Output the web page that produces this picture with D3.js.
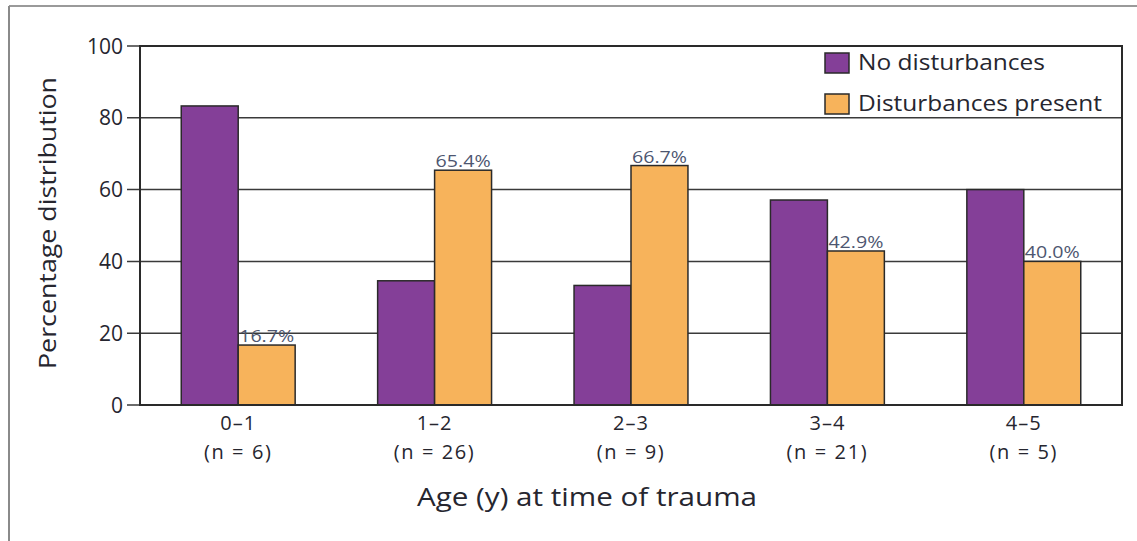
<!DOCTYPE html>
<html>
<head>
<meta charset="utf-8">
<script src="https://cdn.jsdelivr.net/npm/d3@7"></script>
<style>
  body { margin: 0; background: #fff; }
  svg text { font-family: "Open Sans", sans-serif; fill: #26262f; font-weight: 500; }
</style>
</head>
<body>
<div id="chart"></div>
<script>
var ages = ["0\u20131", "1\u20132", "2\u20133", "3\u20134", "4\u20135"];
var counts = ["(n = 6)", "(n = 26)", "(n = 9)", "(n = 21)", "(n = 5)"];
var noDisturb = [83.3, 34.6, 33.3, 57.1, 60.0];
var disturb = [16.7, 65.4, 66.7, 42.9, 40.0];
var seriesNames = ["No disturbances", "Disturbances present"];
var legendWidths = [187, 244];
var yTicks = [0, 20, 40, 60, 80, 100];

var W = 1137, H = 541;
var margin = { top: 46, right: 15, bottom: 136, left: 140 },
    width = W - margin.left - margin.right,
    height = H - margin.top - margin.bottom;

var colors = ["#843f98", "#f7b35b"];

var svg = d3.select("#chart").append("svg")
    .attr("width", W)
    .attr("height", H);

// outer frame (only top and left edges show)
svg.append("line").attr("x1", 9).attr("y1", 6).attr("x2", W).attr("y2", 6)
   .attr("stroke", "#9a9a9a").attr("stroke-width", 2);
svg.append("line").attr("x1", 9).attr("y1", 6).attr("x2", 9).attr("y2", H)
   .attr("stroke", "#8a8a8a").attr("stroke-width", 2);

var g = svg.append("g")
    .attr("transform", "translate(" + margin.left + "," + margin.top + ")");

var x0 = d3.scaleBand().domain(ages).range([0, width]).paddingInner(0.42).paddingOuter(0.21);
var x1 = d3.scaleBand().domain([0, 1]).range([0, x0.bandwidth()]);
var y = d3.scaleLinear().domain([0, 100]).range([height, 0]);

// gridlines
g.selectAll(".grid").data(yTicks.slice(1, 5)).enter().append("line")
  .attr("x1", -13).attr("x2", width)
  .attr("y1", function(d) { return y(d); })
  .attr("y2", function(d) { return y(d); })
  .attr("stroke", "#3a3a3a").attr("stroke-width", 1.5);

// y tick marks at 0 and 100
g.selectAll(".tk").data([0, 100]).enter().append("line")
  .attr("x1", -13).attr("x2", 0)
  .attr("y1", function(d) { return y(d); })
  .attr("y2", function(d) { return y(d); })
  .attr("stroke", "#3a3a3a").attr("stroke-width", 1.5);

g.selectAll(".ylab").data(yTicks).enter().append("text")
  .attr("x", -17)
  .attr("y", function(d) { return y(d); })
  .attr("dy", "0.36em")
  .attr("text-anchor", "end")
  .style("font-size", "21px")
  .text(function(d) { return d; });

// bars
var groups = g.selectAll(".grp").data(ages).enter().append("g")
  .attr("transform", function(d) { return "translate(" + x0(d) + ",0)"; });

groups.each(function(d, i) {
  var vals = [noDisturb[i], disturb[i]];
  d3.select(this).selectAll("rect").data(vals).enter().append("rect")
    .attr("x", function(v, j) { return x1(j); })
    .attr("y", function(v) { return y(v); })
    .attr("width", x1.bandwidth())
    .attr("height", function(v) { return height - y(v); })
    .attr("fill", function(v, j) { return colors[j]; })
    .attr("stroke", "#2a2a2a").attr("stroke-width", 1.5);
  d3.select(this).append("text")
    .attr("x", x1(1) + 1)
    .attr("y", y(disturb[i]) - 3)
    .attr("textLength", 55)
    .attr("lengthAdjust", "spacingAndGlyphs")
    .style("font-size", "16px")
    .style("font-weight", "400")
    .style("fill", "#4d5670")
    .text(disturb[i].toFixed(1) + "%");
});

// plot frame
g.append("rect").attr("x", 0).attr("y", 0).attr("width", width).attr("height", height)
  .attr("fill", "none").attr("stroke", "#2a2a2a").attr("stroke-width", 2);

// category labels
g.selectAll(".xlab").data(ages).enter().append("text")
  .attr("x", function(d) { return x0(d) + x0.bandwidth() / 2; })
  .attr("y", height + 25)
  .attr("text-anchor", "middle")
  .style("font-size", "20px")
  .style("letter-spacing", "1px")
  .text(function(d) { return d; });
g.selectAll(".nlab").data(counts).enter().append("text")
  .attr("x", function(d, i) { return x0(ages[i]) + x0.bandwidth() / 2; })
  .attr("y", height + 54)
  .attr("text-anchor", "middle")
  .style("font-size", "20px")
  .style("letter-spacing", "1.6px")
  .text(function(d) { return d; });

// axis titles
svg.append("text")
  .attr("transform", "translate(56," + 223 + ") rotate(-90)")
  .attr("text-anchor", "middle")
  .attr("textLength", 292)
  .attr("lengthAdjust", "spacingAndGlyphs")
  .style("font-size", "24px")
  .text("Percentage distribution");
svg.append("text")
  .attr("x", 587).attr("y", 506)
  .attr("text-anchor", "middle")
  .attr("textLength", 340)
  .attr("lengthAdjust", "spacingAndGlyphs")
  .style("font-size", "25px")
  .text("Age (y) at time of trauma");

// legend
var legend = g.selectAll(".leg").data(seriesNames).enter().append("g")
  .attr("transform", function(d, i) { return "translate(685," + (7 + i * 41) + ")"; });
legend.append("rect").attr("width", 24).attr("height", 20)
  .attr("fill", function(d, i) { return colors[i]; })
  .attr("stroke", "#2a2a2a").attr("stroke-width", 1.5);
legend.append("text").attr("x", 33).attr("y", 17)
  .attr("textLength", function(d, i) { return legendWidths[i]; })
  .attr("lengthAdjust", "spacingAndGlyphs")
  .style("font-size", "21px")
  .text(function(d) { return d; });
</script>
</body>
</html>
